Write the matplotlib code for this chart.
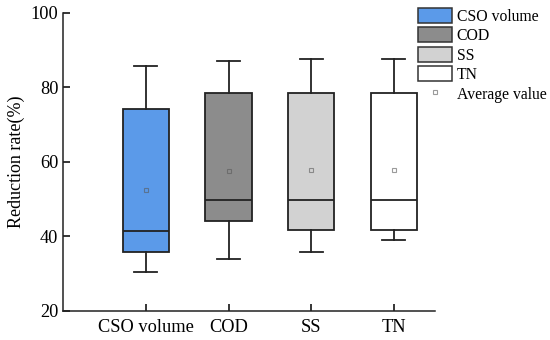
import matplotlib.pyplot as plt
from matplotlib.patches import Patch
from matplotlib.lines import Line2D

plt.rcParams['font.family'] = ['Liberation Serif', 'DejaVu Serif']

categories = ['CSO volume', 'COD', 'SS', 'TN']
whisker_low = [30.5, 34.0, 35.8, 39.0]
q1 = [35.8, 44.2, 41.8, 41.8]
median = [41.4, 49.8, 49.8, 49.8]
q3 = [74.2, 78.5, 78.4, 78.4]
whisker_high = [85.8, 87.1, 87.7, 87.7]
mean = [52.4, 57.5, 57.7, 57.9]
colors = ['#5b9ae9', '#8c8c8c', '#d2d2d2', '#ffffff']

stats = []
for i, name in enumerate(categories):
    stats.append({'label': name, 'whislo': whisker_low[i], 'q1': q1[i], 'med': median[i],
                  'q3': q3[i], 'whishi': whisker_high[i], 'mean': mean[i], 'fliers': []})

fig = plt.figure(figsize=(5.5, 3.4), dpi=100)
ax = fig.add_axes([0.1151, 0.0853, 0.676, 0.877])

lw = 1.3
positions = list(range(1, len(categories) + 1))
bp = ax.bxp(stats, positions=positions, widths=0.56, patch_artist=True, showmeans=True,
            showfliers=False,
            boxprops=dict(edgecolor='#222222', linewidth=lw),
            medianprops=dict(color='#222222', linewidth=lw),
            whiskerprops=dict(color='#222222', linewidth=lw),
            capprops=dict(color='#222222', linewidth=lw),
            meanprops=dict(marker='s', markersize=3.2, markerfacecolor='none',
                           markeredgecolor=(0.35, 0.35, 0.35, 0.6), markeredgewidth=0.8))
for patch, c in zip(bp['boxes'], colors):
    patch.set_facecolor(c)
for cap in bp['caps']:
    xd = cap.get_xdata()
    mid = (xd[0] + xd[1]) / 2
    cap.set_xdata([mid - 0.14, mid + 0.14])

ax.set_xlim(0, 4.5)
ax.set_ylim(20, 100)
ax.set_xticks(positions)
ax.set_xticklabels(categories, fontsize=13.2)
ax.set_yticks([20, 40, 60, 80, 100])
ax.tick_params(axis='y', labelsize=13.2, direction='in', length=5, width=1.1)
ax.tick_params(axis='x', direction='in', length=5, width=1.1, pad=6)
ax.spines['top'].set_visible(False)
ax.spines['right'].set_visible(False)
for s in ['left', 'bottom']:
    ax.spines[s].set_color('#222222')
    ax.spines[s].set_linewidth(1.1)
ax.set_ylabel('Reduction rate(%)', fontsize=13)

handles = [Patch(facecolor=c, edgecolor='#333333', linewidth=1.1) for c in colors]
handles.append(Line2D([], [], marker='s', linestyle='none', markersize=3.2,
                      markerfacecolor='none', markeredgecolor=(0.35, 0.35, 0.35, 0.6),
                      markeredgewidth=0.8))
labels = categories + ['Average value']
fig.legend(handles, labels, loc='upper left', bbox_to_anchor=(418 / 550, 1 - 8 / 340),
           frameon=False, fontsize=11.3, handlelength=2.17, handleheight=1.08,
           handletextpad=0.3, labelspacing=0.17, borderpad=0, borderaxespad=0)

fig.savefig('out.png', dpi=100)
